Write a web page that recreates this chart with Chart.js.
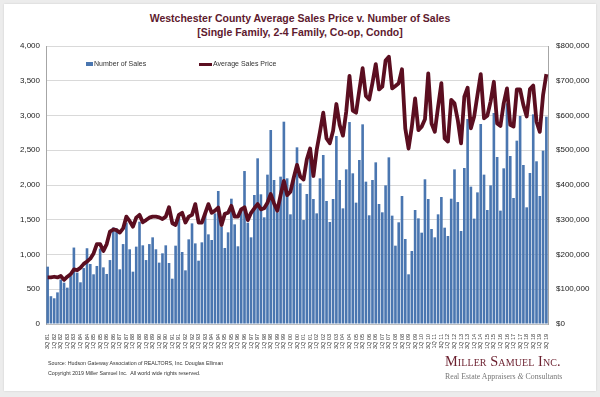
<!DOCTYPE html>
<html>
<head>
<meta charset="utf-8">
<title>Westchester County Average Sales Price v. Number of Sales</title>
<script src="https://cdn.jsdelivr.net/npm/chart.js"></script>
<style>
  html, body { margin: 0; padding: 0; background: #ececec; }
  #wrap { position: relative; width: 600px; height: 397px; overflow: hidden; font-family: 'Liberation Sans', Arial, sans-serif; }
  #panel { position: absolute; left: 4px; top: 4px; width: 592px; height: 387px; background: #fff; box-shadow: 0 0 2px rgba(0,0,0,0.12); }
  #chart { position: absolute; left: 0; top: 0; }
  .title { position: absolute; left: 0; width: 600px; text-align: center; font-weight: bold; font-size: 10.5px; color: #5e1a2e; }
  .legend { position: absolute; font-size: 7px; color: #333; white-space: nowrap; }
  .legend i { display: inline-block; vertical-align: middle; margin-right: 1px; }
  .foot { position: absolute; left: 48px; font-size: 5.3px; color: #333; white-space: nowrap; }
  .logo { position: absolute; left: 445px; font-family: 'Liberation Serif', 'DejaVu Serif', serif; white-space: nowrap; }
</style>
</head>
<body>
<div id="wrap">
  <div id="panel"></div>
  <div class="title" style="top:12px">Westchester County Average Sales Price v. Number of Sales</div>
  <div class="title" style="top:26px">[Single Family, 2-4 Family, Co-op, Condo]</div>
  <canvas id="chart" width="600" height="397"></canvas>
  <div class="legend" style="left:86px; top:60px"><i style="width:7px;height:4px;background:#4a76b0"></i>Number of Sales</div>
  <div class="legend" style="left:199px; top:60px"><i style="width:13px;height:3px;background:#5b0e20"></i>Average Sales Price</div>
  <div class="foot" style="top:360px">Source: Hudson Gateway Association of REALTORS, Inc. Douglas Elliman</div>
  <div class="foot" style="top:370px">Copyright 2019 Miller Samuel Inc.&nbsp; All world wide rights reserved.</div>
  <div class="logo" style="top:353px; font-size:14.3px; font-variant: small-caps; color:#6b1f2e; letter-spacing:0.1px">Miller Samuel Inc.</div>
  <div class="logo" style="top:372px; font-size:7.8px; color:#777">Real Estate Appraisers <em>&amp;</em> Consultants</div>
</div>
<script>
// quarters 3Q 81 .. 3Q 19
const quarters = [
  '3Q 81','4Q 81',
  '1Q 82','2Q 82','3Q 82','4Q 82', '1Q 83','2Q 83','3Q 83','4Q 83',
  '1Q 84','2Q 84','3Q 84','4Q 84', '1Q 85','2Q 85','3Q 85','4Q 85',
  '1Q 86','2Q 86','3Q 86','4Q 86', '1Q 87','2Q 87','3Q 87','4Q 87',
  '1Q 88','2Q 88','3Q 88','4Q 88', '1Q 89','2Q 89','3Q 89','4Q 89',
  '1Q 90','2Q 90','3Q 90','4Q 90', '1Q 91','2Q 91','3Q 91','4Q 91',
  '1Q 92','2Q 92','3Q 92','4Q 92', '1Q 93','2Q 93','3Q 93','4Q 93',
  '1Q 94','2Q 94','3Q 94','4Q 94', '1Q 95','2Q 95','3Q 95','4Q 95',
  '1Q 96','2Q 96','3Q 96','4Q 96', '1Q 97','2Q 97','3Q 97','4Q 97',
  '1Q 98','2Q 98','3Q 98','4Q 98', '1Q 99','2Q 99','3Q 99','4Q 99',
  '1Q 00','2Q 00','3Q 00','4Q 00', '1Q 01','2Q 01','3Q 01','4Q 01',
  '1Q 02','2Q 02','3Q 02','4Q 02', '1Q 03','2Q 03','3Q 03','4Q 03',
  '1Q 04','2Q 04','3Q 04','4Q 04', '1Q 05','2Q 05','3Q 05','4Q 05',
  '1Q 06','2Q 06','3Q 06','4Q 06', '1Q 07','2Q 07','3Q 07','4Q 07',
  '1Q 08','2Q 08','3Q 08','4Q 08', '1Q 09','2Q 09','3Q 09','4Q 09',
  '1Q 10','2Q 10','3Q 10','4Q 10', '1Q 11','2Q 11','3Q 11','4Q 11',
  '1Q 12','2Q 12','3Q 12','4Q 12', '1Q 13','2Q 13','3Q 13','4Q 13',
  '1Q 14','2Q 14','3Q 14','4Q 14', '1Q 15','2Q 15','3Q 15','4Q 15',
  '1Q 16','2Q 16','3Q 16','4Q 16', '1Q 17','2Q 17','3Q 17','4Q 17',
  '1Q 18','2Q 18','3Q 18','4Q 18', '1Q 19','2Q 19','3Q 19'
];

const numberOfSales = [
  825, 400, 370, 455, 640, 595, 523, 690, 1100, 740, 600, 805, 1090, 863, 715, 835, 1085,
  815, 720, 920, 1390, 1375, 787, 1150, 1460, 1075, 753, 1113, 1472, 1132, 920, 1150, 1247,
  1075, 883, 1017, 1132, 878, 652, 1127, 1545, 1036, 772, 1218, 1448, 1160, 911, 1175, 1602,
  1290, 1209, 1592, 1914, 1400, 1094, 1319, 1803, 1434, 1118, 1664, 2201, 1458, 1247, 1856,
  2384, 1866, 1535, 2149, 2791, 2072, 1607, 2120, 2911, 2096, 1578, 2058, 2542, 2024, 1496,
  1871, 2456, 1799, 1592, 2096, 2432, 1770, 1468, 1799, 2705, 2072, 1664, 2225, 2906, 2168,
  1746, 2360, 2873, 2048, 1564, 2072, 2326, 1727, 1607, 1995, 2398, 1559, 1127, 1463, 1842,
  1223, 715, 1050, 1640, 1520, 1314, 2082, 1799, 1367, 1247, 1578, 1827, 1386, 1266, 1803,
  2225, 1755, 1338, 2245, 2950, 1976, 1516, 1894, 2878, 2149, 1640, 1995, 3036, 2403, 1631,
  2240, 3175, 2417, 1813, 2638, 2993, 2288, 1679, 2173, 3017, 2341, 1842, 2494, 2983
];

const avgSalesPrice = [
  134000, 134000, 136000, 134000, 138000, 127000, 136000, 143000, 157000, 155000, 162000,
  173000, 180000, 188000, 203000, 230000, 230000, 210000, 230000, 266000, 272000, 270000,
  263000, 275000, 309000, 296000, 280000, 306000, 314000, 293000, 299000, 306000, 309000,
  309000, 307000, 302000, 309000, 336000, 290000, 285000, 314000, 320000, 292000, 309000,
  314000, 345000, 292000, 292000, 318000, 345000, 320000, 326000, 335000, 285000, 317000,
  320000, 340000, 309000, 309000, 330000, 336000, 299000, 320000, 333000, 345000, 330000,
  333000, 349000, 374000, 347000, 326000, 371000, 412000, 371000, 381000, 421000, 458000,
  424000, 416000, 474000, 505000, 426000, 501000, 553000, 608000, 534000, 520000, 556000,
  633000, 573000, 542000, 611000, 714000, 614000, 608000, 673000, 736000, 656000, 646000,
  694000, 748000, 675000, 683000, 758000, 769000, 678000, 685000, 693000, 733000, 563000,
  505000, 568000, 649000, 558000, 568000, 589000, 721000, 577000, 553000, 625000, 693000,
  534000, 525000, 645000, 635000, 587000, 520000, 654000, 680000, 563000, 597000, 659000,
  719000, 592000, 599000, 640000, 697000, 577000, 570000, 635000, 678000, 573000, 568000,
  675000, 675000, 630000, 597000, 676000, 686000, 582000, 553000, 659000, 719000
];

Chart.defaults.font.family = "'Liberation Sans', Arial, sans-serif";
Chart.defaults.color = '#222';

new Chart(document.getElementById('chart'), {
  type: 'bar',
  data: {
    labels: quarters,
    datasets: [
      {
        type: 'line',
        label: 'Average Sales Price',
        data: avgSalesPrice,
        yAxisID: 'yPrice',
        borderColor: '#5b0e20',
        borderWidth: 3.8,
        pointRadius: 0,
        tension: 0,
        borderJoinStyle: 'round',
        order: 0
      },
      {
        label: 'Number of Sales',
        data: numberOfSales,
        yAxisID: 'ySales',
        backgroundColor: '#4a76b0',
        barPercentage: 0.8,
        categoryPercentage: 1.0,
        order: 1
      }
    ]
  },
  options: {
    responsive: false,
    animation: false,
    layout: { padding: { top: 46, bottom: 43, left: 0, right: 0 } },
    plugins: {
      legend: { display: false },
      tooltip: { enabled: false }
    },
    scales: {
      x: {
        grid: { display: false },
        border: { color: '#bfbfbf' },
        ticks: {
          autoSkip: false,
          maxRotation: 90,
          minRotation: 90,
          padding: 2,
          font: { size: 5.5 },
          color: '#333',
          callback: function (v, i) { return i % 2 === 0 ? this.getLabelForValue(v) : ''; }
        },
        afterFit: s => { s.height = 30; }
      },
      ySales: {
        position: 'left',
        min: 0,
        max: 4000,
        ticks: {
          stepSize: 500,
          padding: 6,
          font: { size: 8 },
          callback: v => v.toLocaleString('en-US')
        },
        grid: { color: '#d9d9d9', drawTicks: false },
        border: { color: '#a6a6a6' },
        afterFit: s => { s.width = 46; }
      },
      yPrice: {
        position: 'right',
        min: 0,
        max: 800000,
        ticks: {
          stepSize: 100000,
          padding: 8,
          font: { size: 8 },
          callback: v => '$' + v.toLocaleString('en-US')
        },
        grid: { display: false, drawTicks: false },
        border: { color: '#a6a6a6' },
        afterFit: s => { s.width = 52; }
      }
    }
  }
});
</script>
</body>
</html>
